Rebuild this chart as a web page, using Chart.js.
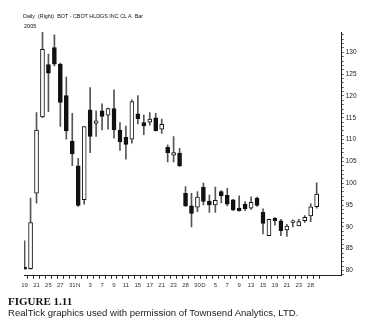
<!DOCTYPE html>
<html><head><meta charset="utf-8">
<script src="https://cdn.jsdelivr.net/npm/chart.js@4.4.0/dist/chart.umd.min.js"></script>
<style>
html,body{margin:0;padding:0;background:#fff;overflow:hidden;}
#wrap{position:relative;width:382px;height:325px;}
canvas{position:absolute;left:0;top:0;}
.t{position:absolute;white-space:nowrap;font-family:"Liberation Sans",Arial,sans-serif;color:#111;line-height:1;}
</style></head><body>
<div id="wrap">
<canvas id="c" width="382" height="325"></canvas>
<div class="t" style="left:23px;top:14px;font-size:5.4px;">Daily&nbsp; (Right)&nbsp; BOT - CBOT HLDGS INC CL A&nbsp; Bar</div>
<div class="t" style="left:24px;top:24px;font-size:5.6px;">2005</div>
<div class="t" style="left:8px;top:296px;font-size:11px;font-weight:bold;font-family:'Liberation Serif',serif;">FIGURE 1.11</div>
<div class="t" style="left:8px;top:308px;font-size:9.6px;color:#1a1a2a;">RealTick graphics used with permission of Townsend Analytics, LTD.</div>
</div>
<script>
const dates = ['Oct 19','Oct 20','Oct 21','Oct 24','Oct 25','Oct 26','Oct 27','Oct 28','Oct 31',
  'Nov 1','Nov 2','Nov 3','Nov 4','Nov 7','Nov 8','Nov 9','Nov 10','Nov 11','Nov 14','Nov 15','Nov 16','Nov 17','Nov 18','Nov 21','Nov 22','Nov 23','Nov 25','Nov 28','Nov 29','Nov 30',
  'Dec 1','Dec 2','Dec 5','Dec 6','Dec 7','Dec 8','Dec 9','Dec 12','Dec 13','Dec 14','Dec 15','Dec 16','Dec 19','Dec 20','Dec 21','Dec 22','Dec 23','Dec 27','Dec 28','Dec 29'];
const tickLabels = ['19','','21','','25','','27','','31','N','','3','','7','','9','','11','','15','','17','','21','','23','','28','','30',
  'D','','5','','7','','9','','13','','15','','19','','21','','23','','28',''];
const openP  = [80.7,80.4,97.7,115.2,127.2,131.1,127.3,120.1,109.6,104.0,96.2,116.8,113.7,116.6,115.6,117.1,112.2,110.5,110.1,115.9,113.9,114.0,115.0,112.4,108.2,106.4,106.9,97.7,94.8,94.5,99.1,95.9,95.0,98.1,97.2,96.2,94.3,95.2,94.3,96.6,93.3,88.0,92.0,91.4,89.3,91.0,90.2,91.4,92.5,94.6];
const highP  = [86.8,96.6,116.2,134.7,129.6,134.0,127.5,124.3,116.0,105.7,113.0,121.9,116.6,118.2,117.2,121.4,113.9,113.1,119.1,120.1,115.6,116.2,116.0,114.7,108.8,110.7,108.0,99.2,97.7,98.1,100.0,97.3,99.1,98.3,98.8,96.3,97.1,95.8,96.9,96.8,94.1,91.8,92.1,91.7,90.6,91.6,91.7,92.6,95.3,100.1];
const lowP   = [80.3,80.3,95.4,115.0,116.4,126.9,113.0,110.1,104.0,94.7,95.2,107.0,110.7,112.2,112.4,110.3,107.5,105.5,109.2,113.6,111.1,113.3,112.0,111.4,104.9,104.9,103.8,94.6,90.0,93.5,95.0,93.3,93.3,95.5,94.8,93.7,93.6,93.7,94.0,94.7,88.4,88.0,90.4,88.0,87.8,90.0,90.2,91.0,91.2,94.3];
const closeP = [80.3,91.0,112.2,130.7,125.2,127.3,118.5,112.0,106.7,94.9,113.0,110.7,114.3,115.3,117.1,112.2,109.5,108.9,118.7,114.8,113.1,114.7,112.0,113.5,107.0,107.0,104.0,94.8,93.1,96.8,95.8,95.0,96.1,97.1,95.2,93.9,93.7,94.1,95.6,94.9,90.8,91.7,91.4,89.1,90.2,91.4,91.2,92.2,94.6,97.5];
const yTickValues = [80,85,90,95,100,105,110,115,120,125,130];

const idx = openP.map((_, i) => i);
const isUp = i => closeP[i] > openP[i];

new Chart(document.getElementById('c'), {
  type: 'bar',
  data: {
    datasets: [
      {
        label: 'Body', order: 0, grouped: false, barThickness: 4, borderSkipped: false,
        data: idx.map(i => ({x: i, y: [openP[i], closeP[i]]})),
        backgroundColor: idx.map(i => isUp(i) ? '#ffffff' : '#111111'),
        borderColor: '#111111', borderWidth: 1
      },
      {
        label: 'Range', order: 1, grouped: false, barThickness: 1, borderWidth: 0,
        data: idx.map(i => ({x: i, y: [lowP[i], highP[i]]})),
        backgroundColor: '#555555'
      }
    ]
  },
  options: {
    responsive: false, animation: false, devicePixelRatio: 1,
    layout: {padding: {left: 24, top: 32, right: 0, bottom: 0}},
    plugins: {legend: {display: false}, tooltip: {enabled: false}},
    scales: {
      x: {
        type: 'linear', min: -0.1, max: 53.2, offset: false,
        afterBuildTicks: s => { s.ticks = idx.map(v => ({value: v})); },
        afterFit: s => { s.height = 49.3; },
        grid: {drawOnChartArea: false, drawTicks: true, tickLength: 3, color: '#222'},
        border: {display: true, color: '#222', width: 1},
        ticks: {autoSkip: false, maxRotation: 0, minRotation: 0, padding: 3,
          font: {size: 6, family: 'Liberation Sans'}, color: '#333',
          callback: (v, i) => tickLabels[i]}
      },
      y: {
        type: 'linear', position: 'right', min: 78.8, max: 134.65,
        afterBuildTicks: s => { const t = []; for (let v = 79; v <= 134; v++) t.push({value: v}); s.ticks = t; },
        afterFit: s => { s.width = 40.3; },
        grid: {drawOnChartArea: false, drawTicks: true, tickLength: 2, color: '#555'},
        border: {display: true, color: '#222', width: 1},
        ticks: {autoSkip: false, padding: 2, font: {size: 6.5, family: 'Liberation Sans'}, color: '#222',
          callback: v => yTickValues.includes(v) ? String(v) : ''}
      }
    }
  }
});
</script>
</body></html>
